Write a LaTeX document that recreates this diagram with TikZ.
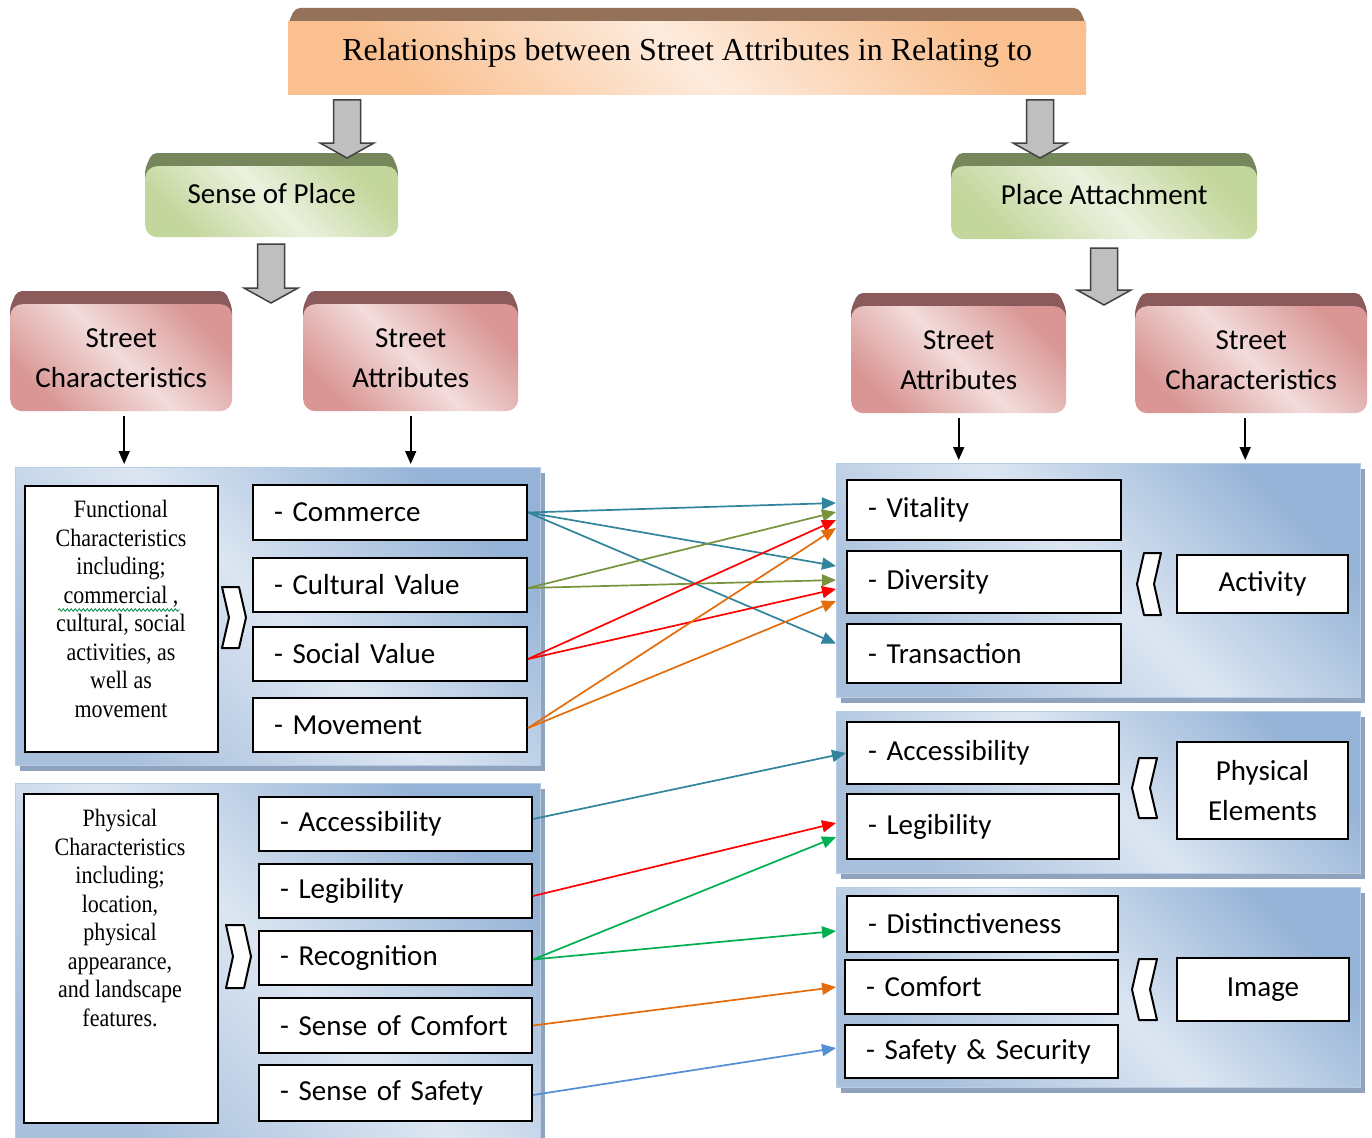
\documentclass[tikz,border=0pt]{standalone}
\usepackage{fontspec}
\setmainfont{Carlito}
\newfontfamily\tnr{Liberation Serif}
\newfontfamily\tnrc{Liberation Serif}[FakeStretch=0.88]
\usetikzlibrary{arrows.meta,calc,shadows,decorations.pathmorphing}

\definecolor{cteal}{HTML}{31849B}
\definecolor{colive}{HTML}{77933C}
\definecolor{cred}{HTML}{FF0000}
\definecolor{corange}{HTML}{E46C0A}
\definecolor{cgreen}{HTML}{00B050}
\definecolor{cblue}{HTML}{558ED5}
\definecolor{pdark}{HTML}{95B3D7}
\definecolor{plight}{HTML}{DCE6F2}
\definecolor{pmid}{HTML}{A9C0DD}
\definecolor{pshadow}{HTML}{8FA3BE}
\definecolor{pedge}{HTML}{B8CCE4}
\definecolor{peachbev}{HTML}{94725A}
\definecolor{peachdark}{HTML}{FAC090}
\definecolor{peachlight}{HTML}{FDEBDD}
\definecolor{greenbev}{HTML}{76885B}
\definecolor{greendark}{HTML}{C3D69B}
\definecolor{greenlight}{HTML}{EBF1DE}
\definecolor{redbev}{HTML}{8B5A5A}
\definecolor{reddark}{HTML}{D99694}
\definecolor{redlight}{HTML}{F2DCDB}
\definecolor{arrowgray}{HTML}{BFBFBF}

% #1 name, #2 x1, #3 ytop, #4 x2, #5 ybottom, #6 scheme, #7 text
\newcommand\bevbox[7]{%
  \fill[#6bev, rounded corners=5pt] (#2,#3+16) -- (#2+7,#3) -- (#4-7,#3) -- (#4,#3+16) -- (#4,#3+30) -- (#2,#3+30) -- cycle;
  \node[#6face, anchor=north west, minimum width=#4-#2, minimum height=#5-#3-13] (#1) at (#2,#3+13) {#7};
}
% block arrow: centre x, top y, tip y
\newcommand\blockarrow[3]{%
  \draw[blockarr] (#1-13.5,#2) -- (#1+13.5,#2) -- (#1+13.5,#3-15) -- (#1+27,#3-15) -- (#1,#3) -- (#1-27,#3-15) -- (#1-13.5,#3-15) -- cycle;
}
% chevron pointing right: x1 y1 x2 y2
\newcommand\chevright[4]{%
  \draw[chev] (#1,#2) -- (#3-7,#2) -- (#3,{(#2+#4)/2}) -- (#3-7,#4) -- (#1,#4) -- (#1+7,{(#2+#4)/2}) -- cycle;
}
% chevron pointing left
\newcommand\chevleft[4]{%
  \draw[chev] (#3,#2) -- (#1+7,#2) -- (#1,{(#2+#4)/2}) -- (#1+7,#4) -- (#3,#4) -- (#3-7,{(#2+#4)/2}) -- cycle;
}

\begin{document}
\begin{tikzpicture}[x=1pt,y=-1pt,
  peachbev/.style={fill=peachbev},
  greenbev/.style={fill=greenbev},
  redbev/.style={fill=redbev},
  peachface/.style={top color=peachdark, bottom color=peachdark, middle color=peachlight, shading angle=-45, inner sep=0pt, align=center, text depth=17pt},
  greenface/.style={top color=greendark, bottom color=greendark, middle color=greenlight, shading angle=-45, rounded corners=12pt, inner sep=0pt, align=center, font=\fontsize{29}{40}\selectfont, text depth=16pt},
  redface/.style={top color=reddark, bottom color=reddark, middle color=redlight, shading angle=-45, rounded corners=12pt, inner sep=0pt, align=center, font=\fontsize{29}{40}\selectfont},
  blockarr/.style={fill=arrowgray, draw=black!75, line width=1.5pt, line join=miter},
  chev/.style={fill=white, draw=black, line width=2pt, line join=round},
  panel/.style={draw=pedge, line width=1pt, top color=pdark, bottom color=pmid, middle color=plight, shading angle=-45, anchor=north west, inner sep=0pt, drop shadow={shadow xshift=4pt, shadow yshift=-5pt, fill=pshadow, opacity=1}},
  item/.style={draw=black, line width=2pt, fill=white, anchor=north west, inner xsep=21pt, inner ysep=0pt, align=left, font=\fontsize{29}{34}\selectfont},
  cat/.style={draw=black, line width=2pt, fill=white, anchor=north west, inner sep=0pt, align=center, font=\fontsize{29}{40}\selectfont},
  descbox/.style={draw=black, line width=2pt, fill=white, anchor=north west, inner sep=0pt},
  desctext/.style={anchor=north, inner sep=0pt, align=center, font=\tnrc\fontsize{25}{28.5}\selectfont},
  smallarr/.style={draw=black, line width=1.6pt, -{Triangle[length=13pt,width=11pt]}, shorten <=5pt, shorten >=3pt},
  conn/.style={line width=1.7pt, -{Triangle[length=14pt,width=12pt]}}
]
\useasboundingbox (0,0) rectangle (1372,1137);
\fill[white] (0,0) rectangle (1372,1137);

% top hierarchy
\bevbox{title}{288}{8}{1086}{94}{peach}{\tnr\fontsize{32}{38}\selectfont Relationships between Street Attributes in Relating to}
\bevbox{sop}{145}{153}{398}{237}{green}{Sense of Place}
\bevbox{pa}{951}{153}{1257}{239}{green}{Place Attachment}
\bevbox{scL}{10}{291}{232}{411}{red}{Street\\Characteristics}
\bevbox{saL}{303}{291}{518}{411}{red}{Street\\Attributes}
\bevbox{saR}{851}{293}{1066}{413}{red}{Street\\Attributes}
\bevbox{scR}{1135}{293}{1367}{413}{red}{Street\\Characteristics}

\blockarrow{347}{100}{158}
\blockarrow{1040}{100}{158}
\blockarrow{271}{244}{303}
\blockarrow{1104}{248}{305}

% panels
\node[panel, minimum width=525, minimum height=298] (L1) at (15,467) {};
\node[panel, minimum width=525, minimum height=360] (L2) at (15,783) {};
\node[panel, minimum width=524, minimum height=234] (R1) at (836,463) {};
\node[panel, minimum width=524, minimum height=162] (R2) at (836,711) {};
\node[panel, minimum width=524, minimum height=200] (R3) at (836,887) {};

% small arrows
\draw[smallarr] ([xshift=3pt]scL.south) -- ([xshift=3pt]scL.south |- L1.north);
\draw[smallarr] (saL.south) -- (saL.south |- L1.north);
\draw[smallarr] (saR.south) -- (saR.south |- R1.north);
\draw[smallarr] ([xshift=-6pt]scR.south) -- ([xshift=-6pt]scR.south |- R1.north);

% left functional panel
\node[descbox, minimum width=193, minimum height=266] (fbox) at (24,485) {};
\node[desctext] (ftext) at (121,500) {Functional\\Characteristics\\including;\\commercial ,\\cultural, social\\activities, as\\well as\\movement};
\draw[cgreen!80!black, line width=0.8pt, decorate, decoration={snake, amplitude=1.3pt, segment length=4pt}] (58,610) -- (180,610);
\chevright{222}{587}{246}{648}
\node[item, text width=232, minimum height=55] (com) at (252,484) {- Commerce};
\node[item, text width=232, minimum height=54] (cul) at (252,557) {- Cultural Value};
\node[item, text width=232, minimum height=54] (soc) at (252,626) {- Social Value};
\node[item, text width=232, minimum height=54] (mov) at (252,697) {- Movement};

% left physical panel
\node[descbox, minimum width=194, minimum height=329] (pbox) at (23,793) {};
\node[desctext] (ptext) at (120,809) {Physical\\Characteristics\\including;\\location,\\physical\\appearance,\\and landscape\\features.};
\chevright{226}{925}{251}{988}
\node[item, text width=231, minimum height=54] (accL) at (258,796) {- Accessibility};
\node[item, text width=231, minimum height=54] (legL) at (258,863) {- Legibility};
\node[item, text width=231, minimum height=54] (recL) at (258,930) {- Recognition};
\node[item, text width=231, minimum height=55] (comfL) at (258,997) {- Sense of Comfort};
\node[item, text width=231, minimum height=56] (safL) at (258,1064) {- Sense of Safety};

% right activity panel
\node[item, text width=232, minimum height=60] (vit) at (846,479) {- Vitality};
\node[item, text width=232, minimum height=62] (div) at (846,550) {- Diversity};
\node[item, text width=232, minimum height=59] (tra) at (846,623) {- Transaction};
\chevleft{1137}{553}{1161}{615}
\node[cat, minimum width=171, minimum height=58] (act) at (1176,554) {Activity};

% right physical elements panel
\node[item, text width=230, minimum height=62] (accR) at (846,721) {- Accessibility};
\node[item, text width=230, minimum height=65] (legR) at (846,793) {- Legibility};
\chevleft{1132}{758}{1157}{818}
\node[cat, minimum width=171, minimum height=97] (phy) at (1176,741) {Physical\\Elements};

% right image panel
\node[item, text width=229, minimum height=56] (dis) at (846,895) {- Distinctiveness};
\node[item, text width=231, minimum height=54] (comfR) at (844,959) {- Comfort};
\node[item, text width=231, minimum height=53] (safR) at (844,1024) {- Safety \& Security};
\chevleft{1132}{959}{1157}{1020}
\node[cat, minimum width=172, minimum height=63] (img) at (1176,957) {Image};

% connectors, upper
\draw[conn, cteal] (com.east) -- ($(R1.west|-vit.center)+(0,-7)$);
\draw[conn, cteal] (com.east) -- ($(R1.west|-div.center)+(0,-16)$);
\draw[conn, cteal] (com.east) -- ($(R1.west|-tra.center)+(0,-10)$);
\draw[conn, colive] ($(cul.east)+(0,3)$) -- ($(R1.west|-vit.center)+(0,2)$);
\draw[conn, colive] ($(cul.east)+(0,3)$) -- ($(R1.west|-div.center)+(0,-2)$);
\draw[conn, cred] ($(soc.east)+(0,5)$) -- ($(R1.west|-vit.center)+(0,10)$);
\draw[conn, cred] ($(soc.east)+(0,5)$) -- ($(R1.west|-div.center)+(0,7)$);
\draw[conn, corange] ($(mov.east)+(0,3)$) -- ($(R1.west|-vit.center)+(0,18)$);
\draw[conn, corange] ($(mov.east)+(0,3)$) -- ($(R1.west|-div.center)+(0,19)$);

% connectors, lower
\draw[conn, cteal] ($(accL.east)+(0,-5)$) -- (accR.west);
\draw[conn, cred] ($(legL.east)+(0,5)$) -- ($(R2.west|-legR.center)+(0,-3.5)$);
\draw[conn, cgreen] ($(recL.east)+(0,1.5)$) -- ($(R2.west|-legR.center)+(0,10.5)$);
\draw[conn, cgreen] ($(recL.east)+(0,1.5)$) -- ($(R3.west|-dis.center)+(0,7)$);
\draw[conn, corange] (comfL.east) -- (R3.west|-comfR.center);
\draw[conn, cblue] ($(safL.east)+(0,2)$) -- ($(R3.west|-safR.center)+(0,-3.5)$);
\end{tikzpicture}
\end{document}
